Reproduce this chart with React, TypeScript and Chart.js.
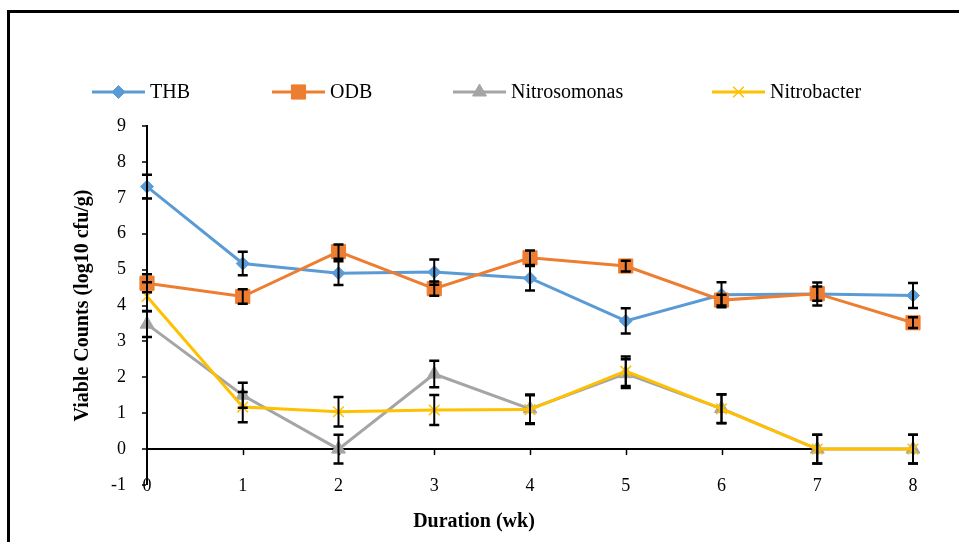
import React, { useEffect, useRef } from 'react';
import { Chart, registerables } from 'chart.js';
import { drawPoint } from 'chart.js/helpers';

Chart.register(...registerables);

// ---- data ----
const durations = [0, 1, 2, 3, 4, 5, 6, 7, 8];
const seriesNames = ['THB', 'ODB', 'Nitrosomonas', 'Nitrobacter'];
const thb = [7.31, 5.17, 4.9, 4.93, 4.76, 3.57, 4.3, 4.32, 4.28];
const thbErr = [0.33, 0.33, 0.33, 0.35, 0.34, 0.35, 0.35, 0.32, 0.35];
const odb = [4.62, 4.25, 5.5, 4.47, 5.33, 5.1, 4.15, 4.33, 3.52];
const odbErr = [0.25, 0.2, 0.2, 0.2, 0.2, 0.15, 0.15, 0.2, 0.15];
const nitrosomonas = [3.48, 1.5, 0.0, 2.09, 1.12, 2.1, 1.13, 0.0, 0.0];
const nitrosomonasErr = [0.36, 0.35, 0.4, 0.37, 0.4, 0.4, 0.4, 0.4, 0.4];
const nitrobacter = [4.25, 1.17, 1.04, 1.09, 1.1, 2.17, 1.12, 0.0, 0.0];
const nitrobacterErr = [0.4, 0.42, 0.41, 0.42, 0.4, 0.41, 0.4, 0.4, 0.4];
const xTickLabels = ['0', '1', '2', '3', '4', '5', '6', '7', '8'];
const yMin = -1;
const yMax = 9;
const xTitle = 'Duration (wk)';
const yTitle = 'Viable Counts (log10 cfu/g)';

const SERIF = '"Liberation Serif", "Times New Roman", serif';

const toPts = (vals: number[]) => vals.map((v, i) => ({ x: durations[i], y: v }));

const legendX = [92, 272, 453, 712];

const customPlugin = {
  id: 'custom',
  beforeDatasetsDraw(chart: any) {
    const { ctx, scales } = chart;
    const y0 = scales.y.getPixelForValue(0);
    ctx.save();
    ctx.strokeStyle = '#000';
    ctx.lineWidth = 1.5;
    durations.forEach((d) => {
      if (d === 0) return;
      const px = Math.round(scales.x.getPixelForValue(d)) + 0.5;
      ctx.beginPath();
      ctx.moveTo(px, y0);
      ctx.lineTo(px, y0 + 6);
      ctx.stroke();
    });
    // x tick labels (placed at the bottom of the value range)
    ctx.fillStyle = '#000';
    ctx.font = `18px ${SERIF}`;
    ctx.textAlign = 'center';
    ctx.textBaseline = 'middle';
    const ly = scales.y.getPixelForValue(yMin) + 1;
    durations.forEach((d, i) => {
      ctx.fillText(xTickLabels[i], scales.x.getPixelForValue(d), ly);
    });
    ctx.restore();
  },
  afterDatasetsDraw(chart: any) {
    const { ctx, scales } = chart;
    ctx.save();
    ctx.strokeStyle = '#000';
    chart.data.datasets.forEach((ds: any) => {
      const errs: number[] = ds.errors;
      ds.data.forEach((p: any, i: number) => {
        const px = scales.x.getPixelForValue(p.x);
        const top = scales.y.getPixelForValue(p.y + errs[i]);
        const bot = scales.y.getPixelForValue(p.y - errs[i]);
        ctx.lineWidth = 2;
        ctx.beginPath();
        ctx.moveTo(px, top);
        ctx.lineTo(px, bot);
        ctx.stroke();
        ctx.lineWidth = 2.5;
        ctx.beginPath();
        ctx.moveTo(px - 5, top);
        ctx.lineTo(px + 5, top);
        ctx.moveTo(px - 5, bot);
        ctx.lineTo(px + 5, bot);
        ctx.stroke();
      });
    });
    ctx.restore();
  },
  afterDraw(chart: any) {
    const { ctx } = chart;
    ctx.save();
    // legend
    const ly = 92;
    chart.data.datasets.forEach((ds: any, i: number) => {
      const sx = legendX[i];
      ctx.strokeStyle = ds.borderColor;
      ctx.lineWidth = 3;
      ctx.beginPath();
      ctx.moveTo(sx, ly);
      ctx.lineTo(sx + 53, ly);
      ctx.stroke();
      ctx.fillStyle = ds.backgroundColor;
      ctx.strokeStyle = ds.borderColor;
      ctx.lineWidth = ds.pointBorderWidth;
      drawPoint(ctx, { pointStyle: ds.pointStyle, rotation: 0, radius: ds.pointRadius, borderWidth: ds.pointBorderWidth }, sx + 26.5, ly);
      ctx.fillStyle = '#000';
      ctx.font = `20px ${SERIF}`;
      ctx.textAlign = 'left';
      ctx.textBaseline = 'alphabetic';
      ctx.fillText(ds.label, sx + 58, 98);
    });
    // axis titles
    ctx.fillStyle = '#000';
    ctx.font = `bold 20px ${SERIF}`;
    ctx.textAlign = 'center';
    ctx.textBaseline = 'alphabetic';
    ctx.fillText(xTitle, 474, 527);
    const ca = chart.chartArea;
    ctx.translate(88, (ca.top + ca.bottom) / 2);
    ctx.rotate(-Math.PI / 2);
    ctx.fillText(yTitle, 0, 0);
    ctx.restore();
  },
};

export default function App() {
  const ref = useRef<HTMLCanvasElement>(null);
  useEffect(() => {
    const common = { borderWidth: 3, tension: 0, clip: false as any };
    const chart = new Chart(ref.current as HTMLCanvasElement, {
      type: 'line',
      data: {
        datasets: [
          { ...common, label: seriesNames[0], data: toPts(thb), errors: thbErr, borderColor: '#5B9BD5', backgroundColor: '#5B9BD5', pointStyle: 'rectRot', pointRadius: 6.5, pointBorderWidth: 1, order: 3 } as any,
          { ...common, label: seriesNames[1], data: toPts(odb), errors: odbErr, borderColor: '#ED7D31', backgroundColor: '#ED7D31', pointStyle: 'rect', pointRadius: 10, pointBorderWidth: 1, order: 2 } as any,
          { ...common, label: seriesNames[2], data: toPts(nitrosomonas), errors: nitrosomonasErr, borderColor: '#A5A5A5', backgroundColor: '#A5A5A5', pointStyle: 'triangle', pointRadius: 8, pointBorderWidth: 1, order: 1 } as any,
          { ...common, label: seriesNames[3], data: toPts(nitrobacter), errors: nitrobacterErr, borderColor: '#FFC000', backgroundColor: '#FFC000', pointStyle: 'crossRot', pointRadius: 7.5, pointBorderWidth: 1.5, order: 0 } as any,
        ],
      },
      options: {
        responsive: false,
        devicePixelRatio: 1,
        animation: false,
        layout: { padding: { top: 126, right: 46, left: 0, bottom: 0 } },
        plugins: { legend: { display: false }, tooltip: { enabled: false } },
        scales: {
          x: {
            type: 'linear',
            min: 0,
            max: 8,
            afterFit: (s: any) => { s.height = 57; },
            grid: { display: false, drawTicks: false },
            border: { display: false },
            ticks: { stepSize: 1, display: false },
          },
          y: {
            min: yMin,
            max: yMax,
            afterFit: (s: any) => { s.width = 147; },
            grid: {
              drawOnChartArea: true,
              color: (c: any) => (c.tick && c.tick.value === 0 ? '#000' : 'rgba(0,0,0,0)'),
              lineWidth: (c: any) => (c.tick && c.tick.value === 0 ? 2 : 0),
              drawTicks: true,
              tickLength: 5,
              tickColor: '#000',
              tickWidth: 1.5,
            },
            border: { display: true, color: '#000', width: 2 },
            ticks: { stepSize: 1, padding: 16, color: '#000', font: { family: SERIF, size: 18 } },
          },
        },
      } as any,
      plugins: [customPlugin],
    });
    return () => chart.destroy();
  }, []);
  return (
    <div style={{ position: 'fixed', left: 0, top: 0, width: 959, height: 542, overflow: 'hidden', background: '#fff' }}>
      <div style={{ position: 'absolute', left: 7, top: 10, width: 1100, height: 700, borderTop: '3px solid #000', borderLeft: '3px solid #000' }} />
      <canvas ref={ref} width={959} height={542} style={{ position: 'absolute', left: 0, top: 0, width: 959, height: 542 }} />
    </div>
  );
}
